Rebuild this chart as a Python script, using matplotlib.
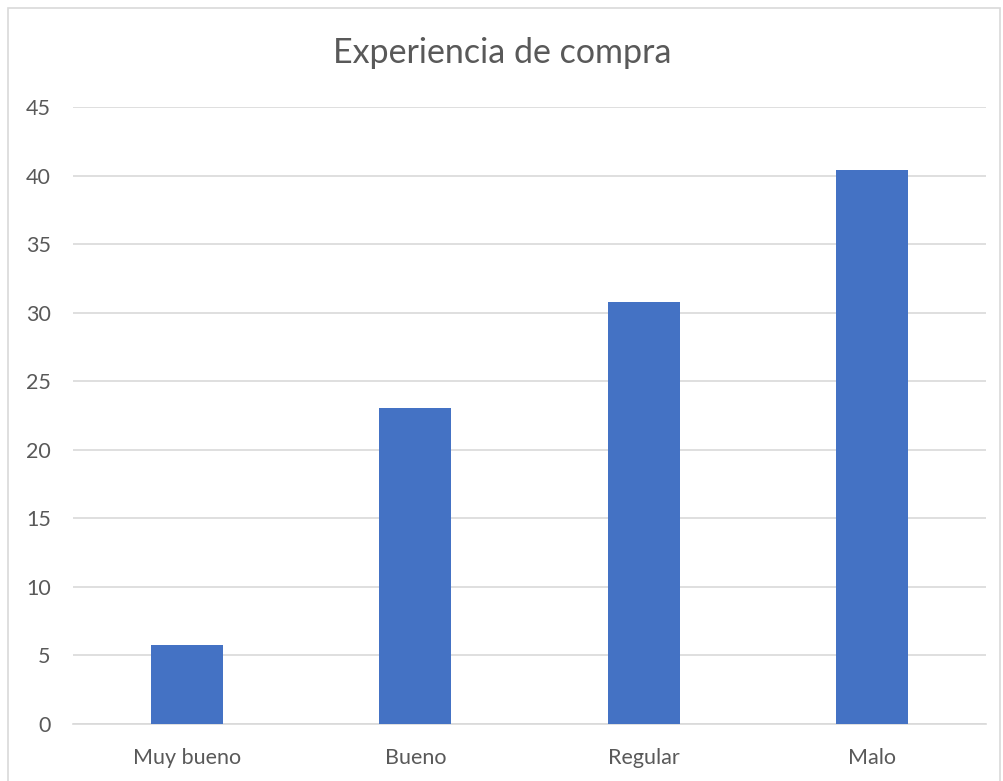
import matplotlib
matplotlib.use("Agg")
import matplotlib.pyplot as plt
from matplotlib.patches import Rectangle

categories = ["Muy bueno", "Bueno", "Regular", "Malo"]
values = [5.77, 23.08, 30.77, 40.38]
yticks = [0, 5, 10, 15, 20, 25, 30, 35, 40, 45]

plt.rcParams['font.family'] = ['Lato', 'DejaVu Sans']

fig = plt.figure(figsize=(10.04, 7.81), dpi=100)
fig.patch.set_facecolor('white')
fig.add_artist(Rectangle((8/1004, -0.01), (1000-8)/1004, 1 - 8/781 + 0.01,
                         transform=fig.transFigure, fill=False,
                         edgecolor='#D9D9D9', linewidth=1.2))

ax = fig.add_axes([73/1004, (781-724)/781, (986-73)/1004, (724-107)/781])
x = range(len(categories))
ax.bar(x, values, width=0.315, color='#4472C4', zorder=3)
ax.set_xlim(-0.5, len(categories) - 0.5)
ax.set_ylim(0, 45)
ax.set_yticks(yticks)
ax.set_xticks(list(x))
ax.set_xticklabels(categories)
ax.grid(axis='y', color='#D9D9D9', linewidth=1.2, zorder=0)
for s in ['top', 'right', 'left']:
    ax.spines[s].set_visible(False)
ax.spines['bottom'].set_color('#D9D9D9')
ax.spines['bottom'].set_linewidth(1.2)
ax.tick_params(axis='both', length=0, labelsize=15.5, labelcolor='#595959')
ax.tick_params(axis='y', pad=16)
ax.tick_params(axis='x', pad=17)
for lbl in ax.get_yticklabels():
    lbl.set_horizontalalignment('right')
fig.text(0.5, 1 - 53/781, "Experiencia de compra", ha='center', va='center',
         fontsize=24.5, color='#595959')

fig.savefig("out.png", dpi=100)
